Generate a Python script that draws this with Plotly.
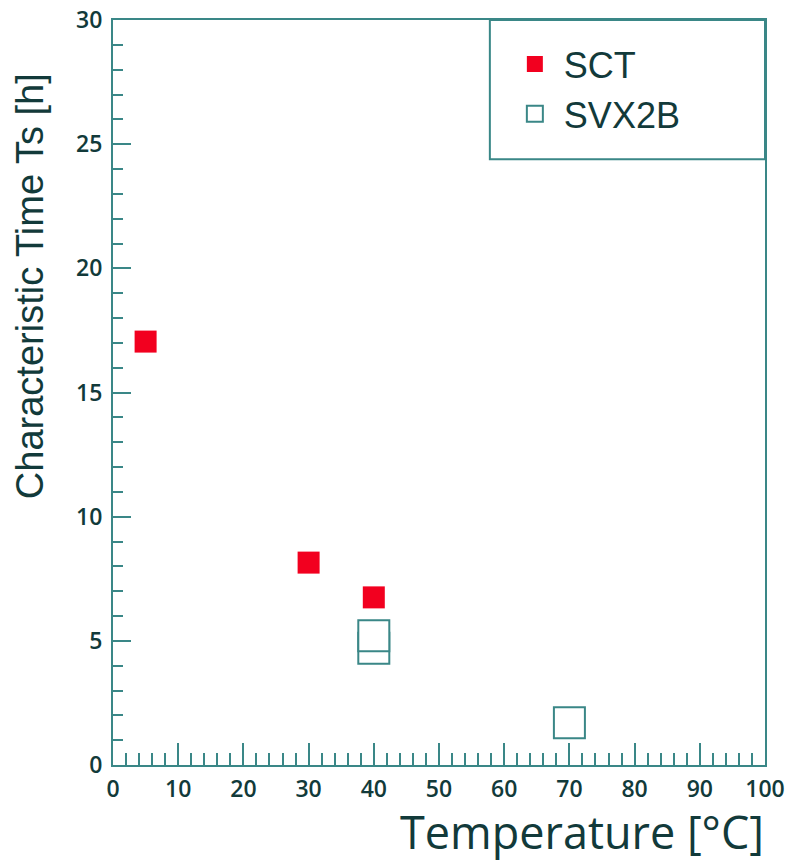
import plotly.graph_objects as go

# Characteristic time vs temperature for two detector modules
sct_temp = [5, 30, 40]
sct_time = [17.05, 8.15, 6.75]

svx_temp = [40, 40, 70]
svx_time = [4.7, 5.2, 1.7]

x_ticks = [0, 10, 20, 30, 40, 50, 60, 70, 80, 90, 100]
y_ticks = [0, 5, 10, 15, 20, 25, 30]

line_col = "#3a8787"
text_col = "#123a3a"

fig = go.Figure()

fig.add_trace(go.Scatter(
    x=sct_temp, y=sct_time, mode="markers", name="SCT",
    marker=dict(symbol="square", size=22, color="#f2001f", line=dict(width=0)),
))

fig.add_trace(go.Scatter(
    x=svx_temp, y=svx_time, mode="markers", name="SVX2B",
    marker=dict(symbol="square", size=31, color="white",
                line=dict(width=2, color=line_col)),
))

axis_common = dict(
    showline=True, linecolor=line_col, linewidth=2, mirror=True,
    showgrid=False, zeroline=False, automargin=False,
    ticks="inside", tickcolor=line_col, tickwidth=2,
    tickfont=dict(family="Open Sans", size=23, color=text_col, weight=600),
)

fig.update_xaxes(
    range=[0, 100], tickvals=x_ticks, ticklen=22,
    minor=dict(dtick=2, ticks="inside", ticklen=12, tickcolor=line_col, tickwidth=2),
    ticklabelstandoff=2,
    **axis_common,
)
fig.update_yaxes(
    range=[0, 30], tickvals=y_ticks, ticklen=18,
    minor=dict(dtick=1, ticks="inside", ticklen=10, tickcolor=line_col, tickwidth=2),
    ticklabelstandoff=4,
    **axis_common,
)

fig.add_annotation(
    text="Temperature [°C]", xref="paper", yref="paper",
    x=1.0, y=-0.0895, xanchor="right", yanchor="middle", showarrow=False,
    borderpad=0,
    font=dict(family="Open Sans", size=45, color=text_col),
)
fig.add_annotation(
    text="Characteristic Time Ts [h]", xref="paper", yref="paper",
    x=-0.127, y=0.643, xanchor="center", yanchor="middle", showarrow=False,
    textangle=-90,
    font=dict(family="Liberation Sans", size=38, color=text_col),
)

# legend frame
fig.add_shape(
    type="rect", xref="paper", yref="paper",
    x0=0.578, x1=1.0, y0=0.813, y1=1.0,
    line=dict(color=line_col, width=2), fillcolor="white", layer="above",
)

fig.update_layout(
    width=791, height=862,
    margin=dict(l=113, r=26, t=20, b=97),
    plot_bgcolor="white", paper_bgcolor="white",
    showlegend=True,
    legend=dict(
        x=0.578, y=0.981, xanchor="left", yanchor="top",
        bgcolor="rgba(0,0,0,0)", borderwidth=0,
        font=dict(family="Liberation Sans", size=36, color=text_col),
        itemsizing="trace", indentation=16, itemwidth=48,
    ),
)

fig.write_html("out.html")
